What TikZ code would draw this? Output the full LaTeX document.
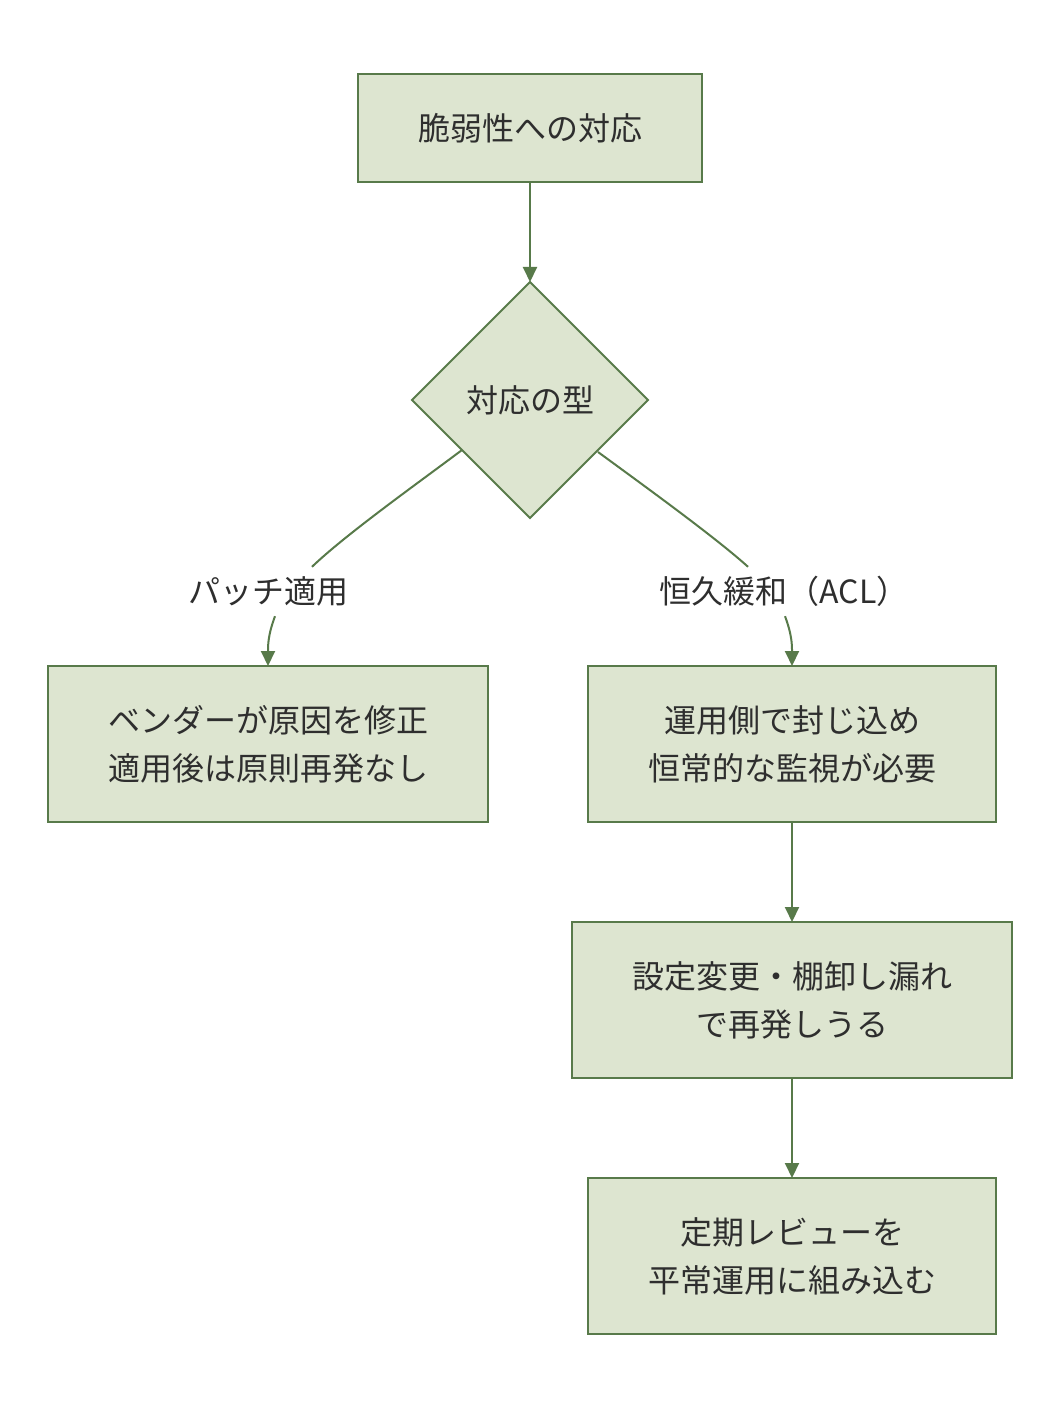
\documentclass[tikz,border=0pt]{standalone}
\usepackage{fontspec}
\setmainfont{Noto Sans CJK JP}
\usetikzlibrary{shapes.geometric,arrows.meta,calc}
\definecolor{boxfill}{HTML}{DDE5D0}
\definecolor{boxline}{HTML}{587A4A}
\definecolor{txt}{HTML}{2E2E2E}
\begin{document}
\begin{tikzpicture}[x=1pt,y=-1pt,
  every node/.style={text=txt,font=\fontsize{32}{48}\selectfont},
  procbox/.style={draw=boxline,fill=boxfill,line width=2pt,rectangle,inner sep=0pt,outer sep=0pt,align=center},
  decbox/.style={draw=boxline,fill=boxfill,line width=2pt,diamond,aspect=1,minimum width=236pt,minimum height=236pt,inner sep=0pt,outer sep=0pt},
  elabel/.style={inner sep=0pt,minimum height=49pt},
  conn/.style={draw=boxline,line width=2pt},
  arr/.style={conn,-{Triangle[length=15pt,width=14pt]}}
]
\useasboundingbox (0,0) rectangle (1060,1412);
\node[procbox,minimum width=344pt,minimum height=108pt] (top) at (530,128) {脆弱性への対応};
\node[decbox] (dec) at (530,400) {対応の型};
\node[elabel] (pl) at (268,591.5) {パッチ適用};
\node[elabel] (ql) at (784,591.5) {恒久緩和（ACL）};
\node[procbox,minimum width=440pt,minimum height=156pt] (left) at (268,744) {ベンダーが原因を修正\\適用後は原則再発なし};
\node[procbox,minimum width=408pt,minimum height=156pt] (r1) at (792,744) {運用側で封じ込め\\恒常的な監視が必要};
\node[procbox,minimum width=440pt,minimum height=156pt] (r2) at (792,1000) {設定変更・棚卸し漏れ\\で再発しうる};
\node[procbox,minimum width=408pt,minimum height=156pt] (r3) at (792,1256) {定期レビューを\\平常運用に組み込む};
\draw[arr] (top.south) -- (dec.north);
\draw[conn] ([shift={(-9pt,9pt)}]dec.south west) .. controls (418,483) and (345,535) .. ([xshift=44pt]pl.north);
\draw[arr] ([xshift=7pt]pl.south) .. controls (268,635) and (268,645) .. (left.north);
\draw[conn] ([shift={(9pt,7pt)}]dec.south east) .. controls (643,485) and (715,537) .. ([xshift=-36pt]ql.north);
\draw[arr] ([xshift=1pt]ql.south) .. controls (792,635) and (792,645) .. (r1.north);
\draw[arr] (r1.south) -- (r2.north);
\draw[arr] (r2.south) -- (r3.north);
\end{tikzpicture}
\end{document}
